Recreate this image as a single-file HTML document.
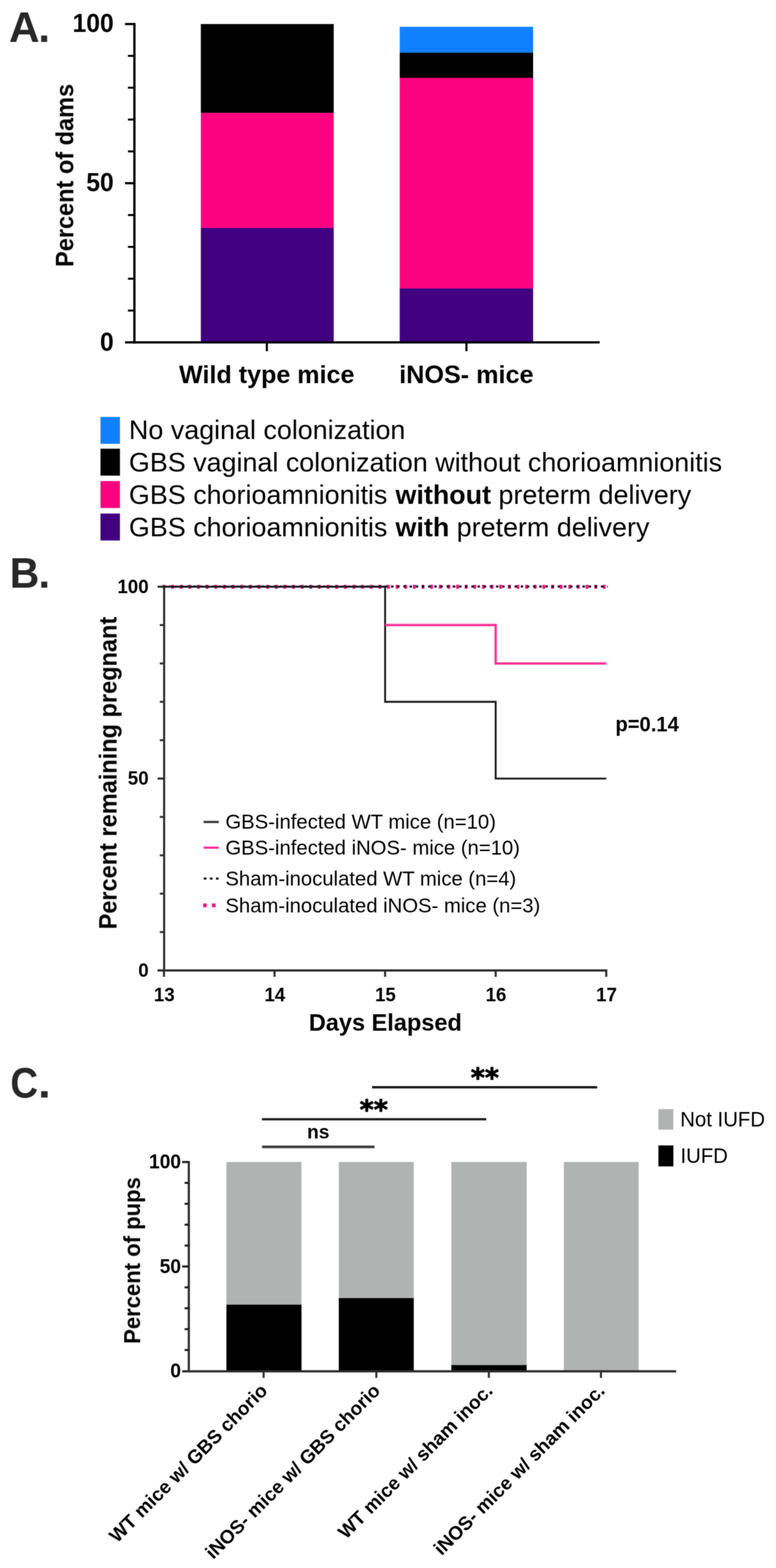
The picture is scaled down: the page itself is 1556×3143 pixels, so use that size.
<!DOCTYPE html>
<html lang="en">
<head>
<meta charset="utf-8">
<title>Figure: GBS infection outcomes in wild type and iNOS- mice</title>
<style>
html, body { margin: 0; padding: 0; background: #ffffff; }
body { width: 1556px; height: 3143px; overflow: hidden; }
svg { display: block; font-family: "Liberation Sans", Arial, Helvetica, sans-serif; }
</style>
</head>
<body>
<svg width="1556" height="3143" viewBox="0 0 1556 3143">
<defs><filter id="soft" x="0" y="0" width="1556" height="3143" filterUnits="userSpaceOnUse" color-interpolation-filters="sRGB"><feGaussianBlur in="SourceGraphic" stdDeviation="1" result="b"/><feComposite in="SourceGraphic" in2="b" operator="arithmetic" k1="0" k2="0.5" k3="0.5" k4="0"/></filter></defs>
<rect x="0" y="0" width="1556" height="3143" fill="#ffffff"/>
<g filter="url(#soft)">
<g id="panelA">
<text transform="translate(17.9 84.4)" font-size="85" font-weight="700" fill="#282828">A<tspan dx="-2.6">.</tspan></text>
<rect x="402.7" y="48.2" width="266.5" height="178.3" fill="#000000"/>
<rect x="402.7" y="226.5" width="266.5" height="230.4" fill="#fd0280"/>
<rect x="402.7" y="456.9" width="266.5" height="229.4" fill="#40007f"/>
<rect x="801.5" y="53.7" width="267.5" height="51.8" fill="#1080ff"/>
<rect x="801.5" y="105.5" width="267.5" height="50.5" fill="#000000"/>
<rect x="801.5" y="156" width="267.5" height="422.1" fill="#fd0280"/>
<rect x="801.5" y="578.1" width="267.5" height="108.2" fill="#40007f"/>
<line x1="269.5" y1="46" x2="269.5" y2="688.5" stroke="#000" stroke-width="4.6"/>
<line x1="250.7" y1="686.3" x2="1202.4" y2="686.3" stroke="#000" stroke-width="4.6"/>
<line x1="256.5" y1="622.49" x2="269.5" y2="622.49" stroke="#000" stroke-width="4"/>
<line x1="256.5" y1="558.68" x2="269.5" y2="558.68" stroke="#000" stroke-width="4"/>
<line x1="256.5" y1="494.87" x2="269.5" y2="494.87" stroke="#000" stroke-width="4"/>
<line x1="256.5" y1="431.06" x2="269.5" y2="431.06" stroke="#000" stroke-width="4"/>
<line x1="250.7" y1="367.25" x2="269.5" y2="367.25" stroke="#000" stroke-width="4.4"/>
<line x1="256.5" y1="303.44" x2="269.5" y2="303.44" stroke="#000" stroke-width="4"/>
<line x1="256.5" y1="239.63" x2="269.5" y2="239.63" stroke="#000" stroke-width="4"/>
<line x1="256.5" y1="175.82" x2="269.5" y2="175.82" stroke="#000" stroke-width="4"/>
<line x1="256.5" y1="112.01" x2="269.5" y2="112.01" stroke="#000" stroke-width="4"/>
<line x1="250.7" y1="48.2" x2="269.5" y2="48.2" stroke="#000" stroke-width="4.4"/>
<line x1="535.1" y1="686.3" x2="535.1" y2="704" stroke="#000" stroke-width="4.2"/>
<line x1="935.3" y1="686.3" x2="935.3" y2="704" stroke="#000" stroke-width="4.2"/>
<text transform="translate(228 702.5) scale(1.000 1.030)" font-size="49.5" font-weight="700" text-anchor="end">0</text>
<text transform="translate(228 383.45) scale(1.000 1.030)" font-size="49.5" font-weight="700" text-anchor="end">50</text>
<text transform="translate(228 64.4) scale(1.000 1.030)" font-size="49.5" font-weight="700" text-anchor="end">100</text>
<text transform="translate(534.9 768)" font-size="50.3" font-weight="700" text-anchor="middle">Wild type mice</text>
<text transform="translate(935.1 768)" font-size="50.5" font-weight="700" text-anchor="middle">iNOS- mice</text>
<text transform="translate(146.8 351.6) rotate(-90) scale(1.000 1.040)" font-size="47.2" font-weight="700" text-anchor="middle">Percent of dams</text>
<rect x="201.5" y="835.7" width="39" height="54" fill="#1080ff"/>
<text transform="translate(258.6 880.4)" font-size="53.9" font-weight="400">No vaginal colonization</text>
<rect x="201.5" y="899.4" width="39" height="54" fill="#000000"/>
<text transform="translate(258.6 945.15)" font-size="53.9" font-weight="400">GBS vaginal colonization without chorioamnionitis</text>
<rect x="201.5" y="964.3" width="39" height="54" fill="#fd0280"/>
<text transform="translate(258.6 1009.9)" font-size="53.9" font-weight="400">GBS chorioamnionitis <tspan font-weight="700" dx="1.3">without</tspan> preterm delivery</text>
<rect x="201.5" y="1029.4" width="39" height="54" fill="#40007f"/>
<text transform="translate(258.6 1074.65)" font-size="53.9" font-weight="400">GBS chorioamnionitis <tspan font-weight="700" dx="1.3">with</tspan> preterm delivery</text>
</g>
<g id="panelB">
<text transform="translate(19.4 1178) scale(0.972 1.000)" font-size="84.5" font-weight="700" fill="#282828">B</text>
<text transform="translate(77.1 1178) scale(1.000 0.960)" font-size="84.5" font-weight="700" fill="#282828">.</text>
<line x1="326" y1="1176.3" x2="1215.6" y2="1176.3" stroke="#ff0a8c" stroke-width="8" stroke-dasharray="5.6 11.71"/>
<line x1="326" y1="1175.7" x2="1218.6" y2="1175.7" stroke="#111" stroke-width="4.2" stroke-dasharray="5 7.38"/>
<line x1="329.1" y1="1174.2" x2="329.1" y2="1947" stroke="#2e2e2e" stroke-width="4.2"/>
<line x1="316" y1="1945.2" x2="1217.6" y2="1945.2" stroke="#2e2e2e" stroke-width="4.4"/>
<line x1="320.4" y1="1868.28" x2="329.1" y2="1868.28" stroke="#2e2e2e" stroke-width="4"/>
<line x1="320.4" y1="1791.36" x2="329.1" y2="1791.36" stroke="#2e2e2e" stroke-width="4"/>
<line x1="320.4" y1="1714.44" x2="329.1" y2="1714.44" stroke="#2e2e2e" stroke-width="4"/>
<line x1="320.4" y1="1637.52" x2="329.1" y2="1637.52" stroke="#2e2e2e" stroke-width="4"/>
<line x1="316" y1="1560.6" x2="329.1" y2="1560.6" stroke="#2e2e2e" stroke-width="4.2"/>
<line x1="320.4" y1="1483.68" x2="329.1" y2="1483.68" stroke="#2e2e2e" stroke-width="4"/>
<line x1="320.4" y1="1406.76" x2="329.1" y2="1406.76" stroke="#2e2e2e" stroke-width="4"/>
<line x1="320.4" y1="1329.84" x2="329.1" y2="1329.84" stroke="#2e2e2e" stroke-width="4"/>
<line x1="320.4" y1="1252.92" x2="329.1" y2="1252.92" stroke="#2e2e2e" stroke-width="4"/>
<line x1="316" y1="1176" x2="329.1" y2="1176" stroke="#2e2e2e" stroke-width="4.2"/>
<line x1="328.8" y1="1945.2" x2="328.8" y2="1958" stroke="#2e2e2e" stroke-width="4.2"/>
<text transform="translate(329.4 2007.4) scale(1.000 1.040)" font-size="37.5" font-weight="700" text-anchor="middle">13</text>
<line x1="550.5" y1="1945.2" x2="550.5" y2="1958" stroke="#2e2e2e" stroke-width="4.2"/>
<text transform="translate(551.1 2007.4) scale(1.000 1.040)" font-size="37.5" font-weight="700" text-anchor="middle">14</text>
<line x1="772.2" y1="1945.2" x2="772.2" y2="1958" stroke="#2e2e2e" stroke-width="4.2"/>
<text transform="translate(772.8 2007.4) scale(1.000 1.040)" font-size="37.5" font-weight="700" text-anchor="middle">15</text>
<line x1="993.9" y1="1945.2" x2="993.9" y2="1958" stroke="#2e2e2e" stroke-width="4.2"/>
<text transform="translate(994.5 2007.4) scale(1.000 1.040)" font-size="37.5" font-weight="700" text-anchor="middle">16</text>
<line x1="1215.6" y1="1945.2" x2="1215.6" y2="1958" stroke="#2e2e2e" stroke-width="4.2"/>
<text transform="translate(1216.2 2007.4) scale(1.000 1.040)" font-size="37.5" font-weight="700" text-anchor="middle">17</text>
<text transform="translate(298 1957.8) scale(1.000 1.040)" font-size="37.5" font-weight="700" text-anchor="end">0</text>
<text transform="translate(298 1573.2) scale(1.000 1.040)" font-size="37.5" font-weight="700" text-anchor="end">50</text>
<text transform="translate(298 1188.6) scale(1.000 1.040)" font-size="37.5" font-weight="700" text-anchor="end">100</text>
<text transform="translate(772.6 2066.3)" font-size="47.2" font-weight="700" text-anchor="middle">Days Elapsed</text>
<text transform="translate(233.6 1549.6) rotate(-90) scale(1.000 1.040)" font-size="47.2" font-weight="700" text-anchor="middle">Percent remaining pregnant</text>
<path d="M328.8 1176 H772.2 V1406.76 H993.9 V1560.6 H1215.6" fill="none" stroke="#1c1c1c" stroke-width="3.8"/>
<path d="M772.2 1252.92 H993.9 V1329.84 H1215.6" fill="none" stroke="#ff3399" stroke-width="4.8"/>
<text transform="translate(1234 1465.8) scale(1.000 1.040)" font-size="40.5" font-weight="700">p=0.14</text>
<line x1="408.2" y1="1647.6" x2="438.7" y2="1647.6" stroke="#333" stroke-width="4.4"/>
<line x1="408.2" y1="1699.1" x2="438.7" y2="1699.1" stroke="#ff2e99" stroke-width="4.4"/>
<line x1="408.6" y1="1761.2" x2="439" y2="1761.2" stroke="#1a1a1a" stroke-width="4.2" stroke-dasharray="5.4 6.8"/>
<line x1="407.3" y1="1814.8" x2="439" y2="1814.8" stroke="#ff0a8c" stroke-width="7.6" stroke-dasharray="7.2 10.5"/>
<text transform="translate(452 1661.1)" font-size="40.65" font-weight="400">GBS-infected WT mice (n=10)</text>
<text transform="translate(452 1712.6)" font-size="40.65" font-weight="400">GBS-infected iNOS- mice (n=10)</text>
<text transform="translate(452 1775.3)" font-size="40.65" font-weight="400">Sham-inoculated WT mice (n=4)</text>
<text transform="translate(452 1828.7)" font-size="40.65" font-weight="400">Sham-inoculated iNOS- mice (n=3)</text>
</g>
<g id="panelC">
<text transform="translate(20.8 2199.6) scale(0.905 1.000)" font-size="85" font-weight="700" fill="#282828">C</text>
<text transform="translate(76.2 2199.6) scale(1.080 1.000)" font-size="85" font-weight="700" fill="#282828">.</text>
<rect x="454" y="2329.2" width="150.5" height="418.8" fill="#b1b3b2"/>
<rect x="454" y="2615.2" width="150.5" height="132.8" fill="#000"/>
<rect x="679.4" y="2329.2" width="150.2" height="418.8" fill="#b1b3b2"/>
<rect x="679.4" y="2602" width="150.2" height="146" fill="#000"/>
<rect x="905" y="2329.2" width="151" height="418.8" fill="#b1b3b2"/>
<rect x="905" y="2736.3" width="151" height="11.7" fill="#000"/>
<rect x="1130.6" y="2329.2" width="150" height="418.8" fill="#b1b3b2"/>
<line x1="378.6" y1="2327.4" x2="378.6" y2="2749.8" stroke="#2e2e2e" stroke-width="4.4"/>
<line x1="365.2" y1="2748.7" x2="1355.8" y2="2748.7" stroke="#2e2e2e" stroke-width="4.6"/>
<line x1="370.2" y1="2706.12" x2="378.6" y2="2706.12" stroke="#1a1a1a" stroke-width="4"/>
<line x1="370.2" y1="2664.24" x2="378.6" y2="2664.24" stroke="#1a1a1a" stroke-width="4"/>
<line x1="370.2" y1="2622.36" x2="378.6" y2="2622.36" stroke="#1a1a1a" stroke-width="4"/>
<line x1="370.2" y1="2580.48" x2="378.6" y2="2580.48" stroke="#1a1a1a" stroke-width="4"/>
<line x1="365.2" y1="2538.6" x2="378.6" y2="2538.6" stroke="#1a1a1a" stroke-width="4.2"/>
<line x1="370.2" y1="2496.72" x2="378.6" y2="2496.72" stroke="#1a1a1a" stroke-width="4"/>
<line x1="370.2" y1="2454.84" x2="378.6" y2="2454.84" stroke="#1a1a1a" stroke-width="4"/>
<line x1="370.2" y1="2412.96" x2="378.6" y2="2412.96" stroke="#1a1a1a" stroke-width="4"/>
<line x1="370.2" y1="2371.08" x2="378.6" y2="2371.08" stroke="#1a1a1a" stroke-width="4"/>
<line x1="365.2" y1="2329.2" x2="378.6" y2="2329.2" stroke="#1a1a1a" stroke-width="4.2"/>
<line x1="528.6" y1="2748" x2="528.6" y2="2761.8" stroke="#2e2e2e" stroke-width="4.2"/>
<line x1="754.6" y1="2748" x2="754.6" y2="2761.8" stroke="#2e2e2e" stroke-width="4.2"/>
<line x1="980.2" y1="2748" x2="980.2" y2="2761.8" stroke="#2e2e2e" stroke-width="4.2"/>
<line x1="1205" y1="2748" x2="1205" y2="2761.8" stroke="#2e2e2e" stroke-width="4.2"/>
<text transform="translate(363 2761) scale(1.000 1.040)" font-size="38.5" font-weight="700" text-anchor="end">0</text>
<text transform="translate(363 2551.6) scale(1.000 1.040)" font-size="38.5" font-weight="700" text-anchor="end">50</text>
<text transform="translate(363 2342.2) scale(1.000 1.040)" font-size="38.5" font-weight="700" text-anchor="end">100</text>
<text transform="translate(280.6 2526.7) rotate(-90) scale(1.000 1.040)" font-size="44.2" font-weight="700" text-anchor="middle">Percent of pups</text>
<line x1="746.1" y1="2179.4" x2="1197.4" y2="2179.4" stroke="#1a1a1a" stroke-width="4.6"/>
<line x1="525.3" y1="2243.5" x2="975" y2="2243.5" stroke="#1a1a1a" stroke-width="4.4"/>
<line x1="525.5" y1="2298.8" x2="751" y2="2298.8" stroke="#3c3c3c" stroke-width="5.2"/>
<text transform="translate(972.3 2179.2)" font-size="54" font-weight="700" text-anchor="middle" font-family="DejaVu Sans, Liberation Sans, sans-serif" stroke="#000" stroke-width="1.5" stroke-linejoin="round">**</text>
<text transform="translate(749.6 2242.9)" font-size="54" font-weight="700" text-anchor="middle" font-family="DejaVu Sans, Liberation Sans, sans-serif" stroke="#000" stroke-width="1.5" stroke-linejoin="round">**</text>
<text transform="translate(638.2 2282.2)" font-size="38.5" font-weight="700" text-anchor="middle">ns</text>
<rect x="1320.2" y="2223.2" width="30" height="41.2" fill="#b1b3b2"/>
<rect x="1320.2" y="2296" width="30" height="42" fill="#000"/>
<text transform="translate(1364 2257.8) scale(1.000 1.050)" font-size="40.8" font-weight="400">Not IUFD</text>
<text transform="translate(1364.4 2331.3) scale(1.000 1.060)" font-size="40.8" font-weight="400">IUFD</text>
<text transform="translate(538.6 2790) rotate(-45)" font-size="38.3" font-weight="700" text-anchor="end">WT mice w/ GBS chorio</text>
<text transform="translate(764.6 2790) rotate(-45)" font-size="38.3" font-weight="700" text-anchor="end">iNOS- mice w/ GBS chorio</text>
<text transform="translate(990.2 2790) rotate(-45)" font-size="38.3" font-weight="700" text-anchor="end">WT mice w/ sham inoc.</text>
<text transform="translate(1215 2790) rotate(-45)" font-size="38.3" font-weight="700" text-anchor="end">iNOS- mice w/ sham inoc.</text>
</g>
</g>
</svg>
</body>
</html>
